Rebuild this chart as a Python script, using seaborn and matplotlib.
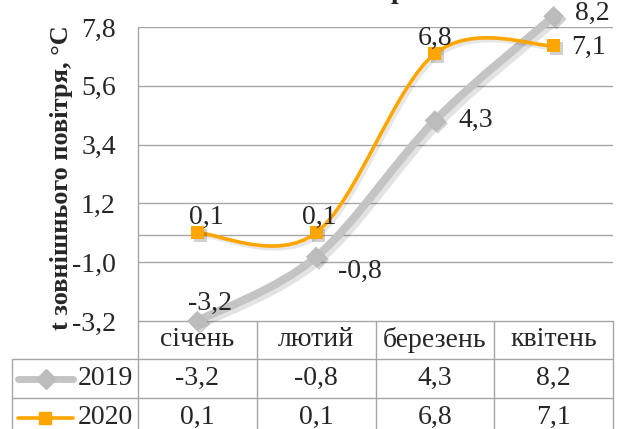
import matplotlib
matplotlib.use("Agg")
import matplotlib.pyplot as plt
import matplotlib.patheffects as pe
from matplotlib.path import Path
from matplotlib.patches import PathPatch
from matplotlib.lines import Line2D
import numpy as np
import pandas as pd
import seaborn as sns

# ---- data ----
months = ["січень", "лютий", "березень", "квітень"]
t2019 = [-3.2, -0.8, 4.3, 8.2]
t2020 = [0.1, 0.1, 6.8, 7.1]
series_names = ["2019", "2020"]
yticks = [-3.2, -1.0, 1.2, 3.4, 5.6, 7.8]
ylabel = "t зовнішнього повітря, °C"

sns.set_theme(style="white")
plt.rcParams["font.family"] = ["Liberation Serif", "DejaVu Serif"]

GRAY = "#c4c4c4"
ORANGE = "#ffa500"
GRID = "#a6a6a6"
FS = 20

W_PX, H_PX = 623, 429
fig = plt.figure(figsize=(W_PX / 100, H_PX / 100), dpi=100)
L, R, T, B = 138, 613, 27, 321
ax = fig.add_axes([L / W_PX, 1 - B / H_PX, (R - L) / W_PX, (B - T) / H_PX])

df = pd.DataFrame({"month": months * 2,
                   "x": list(range(len(months))) * 2,
                   "t": t2019 + t2020,
                   "year": [series_names[0]] * 4 + [series_names[1]] * 4})


def smooth_path(xs, ys):
    pts = np.column_stack([xs, ys]).astype(float)
    n = len(pts)
    verts = [pts[0]]
    codes = [Path.MOVETO]
    for i in range(n - 1):
        p0 = pts[i - 1] if i > 0 else pts[i]
        p1 = pts[i]
        p2 = pts[i + 1]
        p3 = pts[i + 2] if i + 2 < n else pts[i + 1]
        c1 = p1 + (p2 - p0) / 6.0
        c2 = p2 - (p3 - p1) / 6.0
        verts += [c1, c2, p2]
        codes += [Path.CURVE4] * 3
    return Path(verts, codes)


def shadow(off, a):
    return [pe.SimpleLineShadow(offset=(off, -off), shadow_color="k", alpha=a), pe.Normal()]


xs = list(range(len(months)))
ax.add_patch(PathPatch(smooth_path(xs, t2019), fill=False, edgecolor=GRAY, lw=5.8,
                       capstyle="round", joinstyle="round", zorder=3, clip_on=False,
                       path_effects=shadow(2.5, 0.12)))
ax.add_patch(PathPatch(smooth_path(xs, t2020), fill=False, edgecolor=ORANGE, lw=2.6,
                       capstyle="round", joinstyle="round", zorder=4, clip_on=False,
                       path_effects=shadow(2.0, 0.10)))

d19 = df[df.year == "2019"]
d20 = df[df.year == "2020"]
sns.scatterplot(data=d19, x="x", y="t", marker="D", s=110, color="#bcbcbc",
                edgecolor="none", ax=ax, zorder=5, legend=False, clip_on=False)
sns.scatterplot(data=d20, x="x", y="t", marker="s", s=90, color=ORANGE,
                edgecolor="none", ax=ax, zorder=6, legend=False, clip_on=False)
for coll in ax.collections:
    coll.set_path_effects([pe.SimplePatchShadow(offset=(2, -2), shadow_rgbFace="k", alpha=0.2),
                           pe.Normal()])

fmt = lambda v: f"{v:.1f}".replace(".", ",")

off19 = [(13, 18), (44, -15), (41, 0), (39, 3)]
off20 = [(9, 15), (3, 15), (0, 15), (35, -2)]
for i, v in enumerate(t2019):
    ax.annotate(fmt(v), (i, v), xytext=off19[i], textcoords="offset pixels",
                ha="center", va="center", fontsize=FS, zorder=7, annotation_clip=False)
for i, v in enumerate(t2020):
    ax.annotate(fmt(v), (i, v), xytext=off20[i], textcoords="offset pixels",
                ha="center", va="center", fontsize=FS, zorder=7, annotation_clip=False)

ax.set_xlim(-0.5, len(months) - 0.5)
ax.set_ylim(yticks[0], yticks[-1])
ax.set_yticks(yticks)
ax.set_yticklabels([fmt(v) for v in yticks], fontsize=FS)
ax.set_xticks([])
ax.set_xlabel("")
ax.set_ylabel("")
ax.tick_params(axis="y", length=0, pad=16)
for v in yticks[1:]:
    ax.axhline(v, color=GRID, lw=1, zorder=1)
ax.axhline(0, color=GRID, lw=1, zorder=1)
for s in ["top", "right", "bottom"]:
    ax.spines[s].set_visible(False)
ax.spines["left"].set_color(GRID)
ax.spines["left"].set_linewidth(1)

fig.text(62 / W_PX, 1 - 178 / H_PX, ylabel, rotation=90, ha="center", va="center",
         fontsize=19, fontweight="bold")

# title remnant (the title is cropped off at the top edge in the reference)
fig.text(398 / W_PX, 1 + 2 / H_PX, "р", ha="center", va="baseline", fontsize=20,
         fontweight="bold")

# ---- data table below the plot ----
ph = B - T
pw = R - L
ax_y = lambda px: (B - px) / ph
ax_x = lambda px: (px - L) / pw
row_lines = [321, 359, 398, 437]
left_px = 12
kw = dict(transform=ax.transAxes, clip_on=False, color=GRID, lw=1)
ax.add_line(Line2D([0, 1], [ax_y(row_lines[0])] * 2, **kw))
for yy in row_lines[1:]:
    ax.add_line(Line2D([ax_x(left_px), 1], [ax_y(yy)] * 2, **kw))
for k in range(len(months) + 1):
    xx = k / len(months)
    ax.add_line(Line2D([xx, xx], [ax_y(row_lines[0]), ax_y(row_lines[-1])], **kw))
ax.add_line(Line2D([ax_x(left_px)] * 2, [ax_y(row_lines[1]), ax_y(row_lines[-1])], **kw))

ycat = ax_y((row_lines[0] + row_lines[1]) / 2)
y19 = ax_y((row_lines[1] + row_lines[2]) / 2)
y20 = ax_y((row_lines[2] + row_lines[3]) / 2)
for i, m in enumerate(months):
    xc = (i + 0.5) / len(months)
    ax.text(xc, ycat, m, transform=ax.transAxes, ha="center", va="center", fontsize=FS)
    ax.text(xc, y19, fmt(t2019[i]), transform=ax.transAxes, ha="center", va="center", fontsize=FS)
    ax.text(xc, y20, fmt(t2020[i]), transform=ax.transAxes, ha="center", va="center", fontsize=FS)

# legend keys inside table
ax.add_line(Line2D([ax_x(18), ax_x(73)], [y19, y19], transform=ax.transAxes, clip_on=False,
                   color=GRAY, lw=5, solid_capstyle="round"))
ax.add_line(Line2D([ax_x(46)], [y19], transform=ax.transAxes, clip_on=False, marker="D",
                   markersize=10, color="#bcbcbc", lw=0))
ax.add_line(Line2D([ax_x(18), ax_x(73)], [y20, y20], transform=ax.transAxes, clip_on=False,
                   color=ORANGE, lw=2.6, solid_capstyle="round"))
ax.add_line(Line2D([ax_x(45)], [y20], transform=ax.transAxes, clip_on=False, marker="s",
                   markersize=9, color=ORANGE, lw=0))
ax.text(ax_x(133), y19, series_names[0], transform=ax.transAxes, ha="right", va="center", fontsize=FS)
ax.text(ax_x(133), y20, series_names[1], transform=ax.transAxes, ha="right", va="center", fontsize=FS)

fig.savefig("out.png", dpi=100)
